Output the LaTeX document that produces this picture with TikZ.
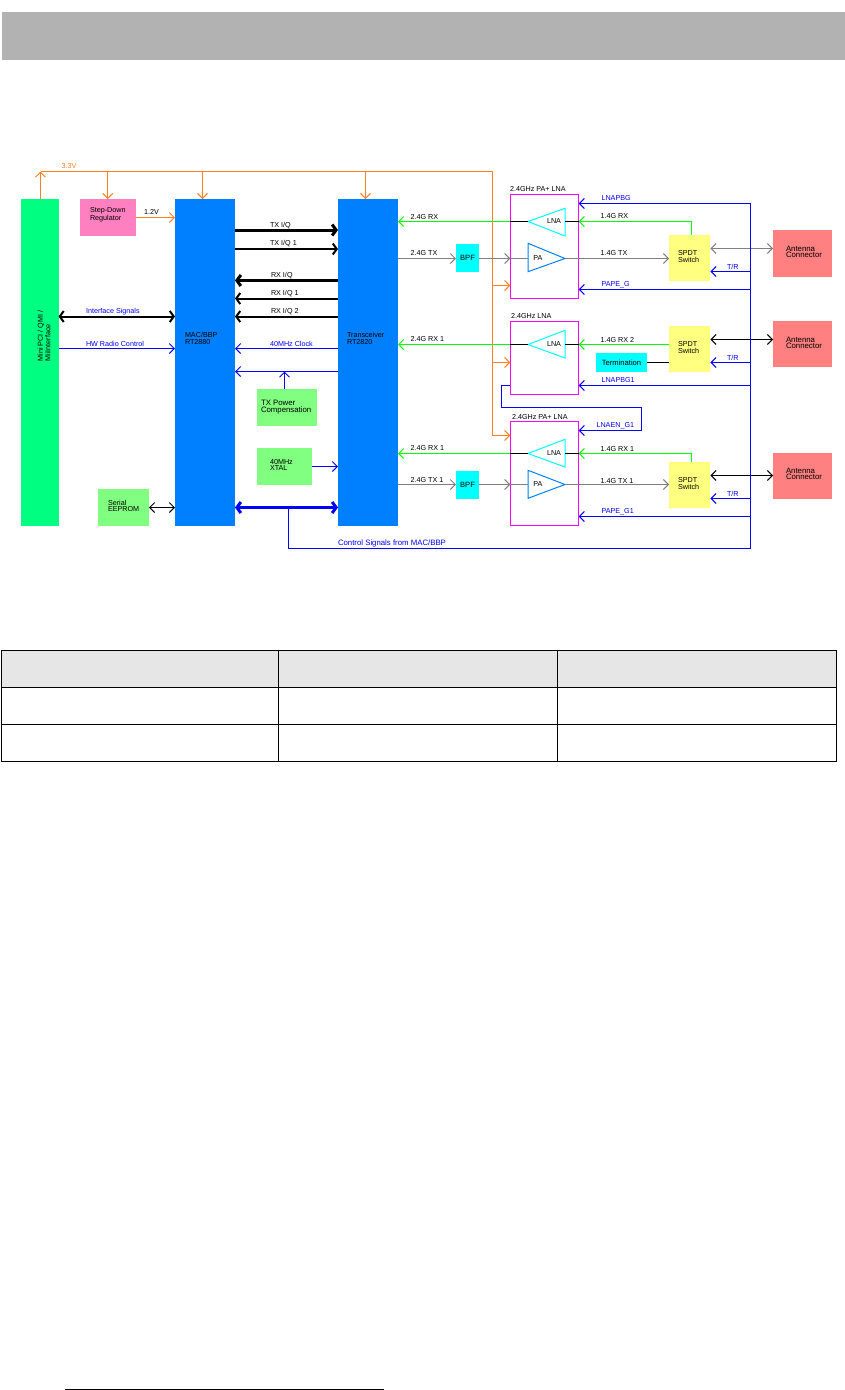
\documentclass[tikz,border=0pt]{standalone}
\usepackage{fontspec}
\setmainfont{Liberation Sans}
\usetikzlibrary{arrows.meta,calc}
\definecolor{barGray}{HTML}{B2B2B2}
\definecolor{headGray}{HTML}{E6E6E6}
\definecolor{hostGreen}{HTML}{00FF80}
\definecolor{chipBlue}{HTML}{0080FF}
\definecolor{regPink}{HTML}{FF80C0}
\definecolor{lightGreen}{HTML}{80FF80}
\definecolor{swYellow}{HTML}{FFFF80}
\definecolor{antRed}{HTML}{FF8080}
\definecolor{pwrOrange}{HTML}{FF8020}
\definecolor{ctlBlue}{HTML}{0000FF}
\definecolor{rfGray}{HTML}{808080}
\definecolor{rxGreen}{HTML}{00FF00}
\definecolor{bpfCyan}{HTML}{00FFFF}
\definecolor{femPink}{HTML}{FF00FF}
\begin{document}
\begin{tikzpicture}
[x=1pt,y=-1pt,
>={Straight Barb[length=5pt,width=10pt]},
box/.style={rectangle, draw=none, inner sep=0pt, outer sep=0pt},
hostbox/.style={box, fill=hostGreen},
chipbox/.style={box, fill=chipBlue},
regbox/.style={box, fill=regPink},
auxbox/.style={box, fill=lightGreen},
bpfbox/.style={box, fill=bpfCyan, font=\fontsize{7.6}{7}\selectfont},
swbox/.style={box, fill=swYellow},
antbox/.style={box, fill=antRed},
fembox/.style={box, draw=femPink, line width=1pt},
txt/.style={inner sep=0pt, outer sep=0pt, font=\fontsize{7.2}{6.5}\selectfont, align=left},
bigtxt/.style={txt, font=\fontsize{7.8}{6.5}\selectfont},
blutxt/.style={txt, text=ctlBlue},
orgtxt/.style={txt, text=pwrOrange},
link/.style={line width=1pt},
pwr/.style={link, pwrOrange, ->},
ctl/.style={link, ctlBlue, ->},
ctlw/.style={link, ctlBlue},
rx/.style={link, rxGreen, ->},
tx/.style={link, rfGray, ->},
txw/.style={link, rfGray},
blk/.style={link, black},
bus/.style={line width=3pt, black, ->, >={Straight Barb[length=4pt,width=11pt]}},
busthin/.style={bus, line width=2pt},
ant/.style={link, <->},
lnaamp/.style={draw=bpfCyan, line width=1pt},
paamp/.style={draw=chipBlue, line width=1pt}
]
\useasboundingbox (0,0) rectangle (845,1390);

% page furniture
\node (topbar) [box, fill=barGray, minimum width=843pt, minimum height=48pt] at (423.5,36) {};
\node (tablehead) [box, fill=headGray, minimum width=835pt, minimum height=37pt] at (418.5,668.5) {};
\coordinate (tnw) at (1,650);
\coordinate (tse) at (836,761);
\draw[line width=1pt] (tnw) rectangle (tse);
\foreach \rowy in {687,724} {
  \draw[line width=1pt] (tnw |- 0,\rowy) -- (tse |- 0,\rowy);
}
\foreach \colx in {278,557} {
  \draw[line width=1pt] (\colx,0 |- tnw) -- (\colx,0 |- tse);
}
\coordinate (footl) at (65,1389);
\coordinate (footr) at (384,1389);
\draw[line width=1pt] (footl) -- (footr);

% heights of the horizontal runs
\coordinate (rail) at (0,171.5);
\coordinate (r12) at (0,217.5);
\coordinate (txa) at (0,230);
\coordinate (txb) at (0,249);
\coordinate (rxa) at (0,280.5);
\coordinate (rxb) at (0,298.5);
\coordinate (rxc) at (0,316.5);
\coordinate (hw) at (0,348.5);
\coordinate (clk) at (0,371.5);
\coordinate (xt) at (0,466.5);
\coordinate (cbus) at (0,507.5);
\coordinate (cbot) at (0,548.5);
\coordinate (a1) at (0,221.5);
\coordinate (b1) at (0,258.5);
\coordinate (ant1) at (0,248.5);
\coordinate (tr1) at (0,271.5);
\coordinate (pg1) at (0,289.5);
\coordinate (lb1) at (0,203.5);
\coordinate (a2) at (0,344.5);
\coordinate (ant2) at (0,339.5);
\coordinate (tr2) at (0,362.5);
\coordinate (lb2) at (0,385.5);
\coordinate (a3) at (0,453.5);
\coordinate (b3) at (0,484.5);
\coordinate (ant3) at (0,475.5);
\coordinate (tr3) at (0,498.5);
\coordinate (pg3) at (0,516.5);
\coordinate (en) at (0,430.5);
\coordinate (loop) at (0,407.5);
\coordinate (ctlx) at (750.5,0);
\coordinate (pwrx) at (492.5,0);
\coordinate (busx) at (288.5,0);
\coordinate (loopl) at (501.5,0);
\coordinate (loopr) at (641.5,0);
\coordinate (swx) at (691.5,0);
\coordinate (ampl) at (528,0);
\coordinate (ampr) at (565,0);
\coordinate (hostx) at (40.5,0);
\coordinate (macx) at (202.5,0);
\coordinate (trxx) at (365.5,0);
\coordinate (pwrcx) at (284.5,0);

% blocks
\node (host) [hostbox, minimum width=37.5pt, minimum height=327pt] at (39.75,362.5) {};
\node (reg) [regbox, minimum width=55.5pt, minimum height=37pt] at (107.75,217.5) {};
\node (mac) [chipbox, minimum width=60pt, minimum height=327pt] at (205,362.5) {};
\node (trx) [chipbox, minimum width=60pt, minimum height=327pt] at (368,362.5) {};
\node (pwrc) [auxbox, minimum width=59.5pt, minimum height=37pt] at (286.75,407.5) {};
\node (xtal) [auxbox, minimum width=55pt, minimum height=37pt] at (284.5,466.5) {};
\node (eep) [auxbox, minimum width=51pt, minimum height=37pt] at (123.5,507.5) {};
\node (fema) [fembox, minimum width=68.4pt, minimum height=104pt] at (544.5,246.3) {};
\node (femb) [fembox, minimum width=68.4pt, minimum height=72.6pt] at (544.5,358) {};
\node (femc) [fembox, minimum width=68.4pt, minimum height=104pt] at (544.5,473.3) {};
\node (bpfa) [bpfbox, minimum width=23pt, minimum height=28pt] at (467.5,258) {BPF};
\node (bpfc) [bpfbox, minimum width=23pt, minimum height=28pt] at (467.5,484.8) {BPF};
\node (swa) [swbox, minimum width=41.3pt, minimum height=46pt] at (689.7,258) {};
\node (swb) [swbox, minimum width=41.3pt, minimum height=45.7pt] at (689.7,348.9) {};
\node (swc) [swbox, minimum width=41.3pt, minimum height=45.7pt] at (689.7,484.9) {};
\node (term) [bpfbox, minimum width=51pt, minimum height=18.7pt] at (621.5,362.3) {Termination};
\node (anta) [antbox, minimum width=59pt, minimum height=47pt] at (802.5,253.5) {};
\node (antb) [antbox, minimum width=59pt, minimum height=45.7pt] at (802.5,343.9) {};
\node (antc) [antbox, minimum width=59pt, minimum height=45.7pt] at (802.5,475.9) {};

% amplifiers
\coordinate (lnaatip) at (528,221.5);
\coordinate (lnabtip) at (528,344.5);
\coordinate (lnactip) at (528,453.5);
\coordinate (paatip) at (565,258.5);
\coordinate (pactip) at (565,484.5);
\draw[lnaamp] (lnaatip) -- (565,208.3) -- (565,236) -- cycle;
\draw[lnaamp] (lnabtip) -- (565,330.3) -- (565,358) -- cycle;
\draw[lnaamp] (lnactip) -- (565,439.3) -- (565,467) -- cycle;
\draw[paamp] (paatip) -- (528,243.3) -- (528,271.7) -- cycle;
\draw[paamp] (pactip) -- (528,470.3) -- (528,498.3) -- cycle;

% power
\draw[link,pwrOrange] (pwrx |- rail) -- (hostx |- rail);
\draw[pwr] (hostx |- host.north) -- (hostx |- rail);
\draw[pwr] (reg.north |- rail) -- (reg.north);
\draw[pwr] (macx |- rail) -- (macx |- mac.north);
\draw[pwr] (trxx |- rail) -- (trxx |- trx.north);
\draw[link,pwrOrange] (pwrx |- rail) -- (pwrx |- 0,435.5);
\draw[pwr] (pwrx |- 0,285.5) -- (fema.west |- 0,285.5);
\draw[pwr] (pwrx |- 0,362.5) -- (femb.west |- 0,362.5);
\draw[pwr] (pwrx |- 0,435.5) -- (femc.west |- 0,435.5);
\draw[pwr] (reg.east |- r12) -- (mac.west |- r12);

% buses between MAC and transceiver
\draw[bus] (mac.east |- txa) -- (trx.west |- txa);
\draw[busthin] (mac.east |- txb) -- (trx.west |- txb);
\draw[bus] (trx.west |- rxa) -- (mac.east |- rxa);
\draw[busthin] (trx.west |- rxb) -- (mac.east |- rxb);
\draw[busthin] (trx.west |- rxc) -- (mac.east |- rxc);
\draw[busthin, <->] (host.east |- rxc) -- (mac.west |- rxc);
\draw[ctl] (host.east |- hw) -- (mac.west |- hw);
\draw[ctl] (trx.west |- hw) -- (mac.east |- hw);
\draw[ctl] (trx.west |- clk) -- (mac.east |- clk);
\draw[ctl] (pwrcx |- pwrc.north) -- (pwrcx |- clk);
\draw[ctl] (xtal.east |- xt) -- (trx.west |- xt);
\draw[ant] (eep.east |- cbus) -- (mac.west |- cbus);
\draw[bus, <->, ctlBlue] (mac.east |- cbus) -- (trx.west |- cbus);

% first front end
\draw[rx] (fema.west |- a1) -- (trx.east |- a1);
\draw[blk] (fema.west |- a1) -- (lnaatip);
\draw[tx] (trx.east |- b1) -- (bpfa.west |- b1);
\draw[tx] (bpfa.east |- b1) -- (fema.west |- b1);
\draw[txw] (fema.west |- b1) -- (ampl |- b1);
\draw[rx] (swx |- swa.north) -- (swx |- a1) -- (fema.east |- a1);
\draw[blk] (ampr |- a1) -- (fema.east |- a1);
\draw[tx] (paatip) -- (swa.west |- b1);
\draw[tx, <->] (swa.east |- ant1) -- (anta.west |- ant1);
\draw[ctl] (ctlx |- tr1) -- (swa.east |- tr1);
\draw[ctl] (ctlx |- pg1) -- (fema.east |- pg1);
\draw[ctl] (ctlx |- lb1) -- (fema.east |- lb1);

% second front end
\draw[rx] (femb.west |- a2) -- (trx.east |- a2);
\draw[blk] (femb.west |- a2) -- (lnabtip);
\draw[rx] (swb.west |- a2) -- (femb.east |- a2);
\draw[blk] (ampr |- a2) -- (femb.east |- a2);
\draw[ant] (swb.east |- ant2) -- (antb.west |- ant2);
\draw[ctl] (ctlx |- tr2) -- (swb.east |- tr2);
\draw[blk] (term.east |- tr2) -- (swb.west |- tr2);
\draw[ctl] (ctlx |- lb2) -- (femb.east |- lb2);
\draw[ctl] (femb.west |- lb2) -- (loopl |- lb2) -- (loopl |- loop) -- (loopr |- loop) -- (loopr |- en) -- (femc.east |- en);

% third front end
\draw[rx] (femc.west |- a3) -- (trx.east |- a3);
\draw[blk] (femc.west |- a3) -- (lnactip);
\draw[rx] (swx |- swc.north) -- (swx |- a3) -- (femc.east |- a3);
\draw[blk] (ampr |- a3) -- (femc.east |- a3);
\draw[tx] (trx.east |- b3) -- (bpfc.west |- b3);
\draw[tx] (bpfc.east |- b3) -- (femc.west |- b3);
\draw[txw] (femc.west |- b3) -- (ampl |- b3);
\draw[tx] (pactip) -- (swc.west |- b3);
\draw[ant] (swc.east |- ant3) -- (antc.west |- ant3);
\draw[ctl] (ctlx |- tr3) -- (swc.east |- tr3);
\draw[ctl] (ctlx |- pg3) -- (femc.east |- pg3);

% control bus
\draw[ctlw] (busx |- cbus) -- (busx |- cbot) -- (ctlx |- cbot) -- (ctlx |- lb1);

% block texts
\node (hosttxt) [txt, rotate=90] at (44,336) {Mini PCI / QMI /\\MiiInterface};
\node (regtxt) [txt, anchor=west] at (90,215) {Step-Down\\Regulator};
\node (mactxt) [txt, anchor=west] at (185,338.5) {MAC/BBP\\RT2880};
\node (trxtxt) [txt, anchor=west] at (347,338.5) {Transceiver\\RT2820};
\node (pwrtxt) [bigtxt, anchor=west] at (261,407) {TX Power\\Compensation};
\node (xtaltxt) [txt, anchor=west] at (270,465) {40MHz\\XTAL};
\node (eeptxt) [txt, anchor=west] at (108,506) {Serial\\EEPROM};
\node (lnaatxt) [txt] at (554,221.5) {LNA};
\node (lnabtxt) [txt] at (554,344.5) {LNA};
\node (lnactxt) [txt] at (554,453.5) {LNA};
\node (paatxt) [txt] at (538,258) {PA};
\node (pactxt) [txt] at (538,484.5) {PA};
\node (fematxt) [txt, anchor=west] at (510,189.5) {2.4GHz PA+ LNA};
\node (fembtxt) [txt, anchor=west] at (511,316.5) {2.4GHz LNA};
\node (femctxt) [txt, anchor=west] at (512,417.5) {2.4GHz PA+ LNA};
\node (swatxt) [txt, anchor=west] at (678,256.5) {SPDT\\Switch};
\node (swbtxt) [txt, anchor=west] at (678,347.5) {SPDT\\Switch};
\node (swctxt) [txt, anchor=west] at (678,483.5) {SPDT\\Switch};
\node (antatxt) [bigtxt, anchor=west] at (786,252) {Antenna\\Connector};
\node (antbtxt) [bigtxt, anchor=west] at (786,343) {Antenna\\Connector};
\node (antctxt) [bigtxt, anchor=west] at (786,474) {Antenna\\Connector};

% connector texts
\node (l33) [orgtxt, anchor=west] at (61.5,166.5) {3.3V};
\node (l12) [txt, anchor=west] at (144,212) {1.2V};
\node (ltxa) [txt, anchor=west] at (270,226) {TX I/Q};
\node (ltxb) [txt, anchor=west] at (270,244) {TX I/Q 1};
\node (lrxa) [txt, anchor=west] at (271,275.5) {RX I/Q};
\node (lrxb) [txt, anchor=west] at (271,294) {RX I/Q 1};
\node (lrxc) [txt, anchor=west] at (271,312) {RX I/Q 2};
\node (lif) [blutxt, anchor=west] at (86,312) {Interface Signals};
\node (lhw) [blutxt, anchor=west] at (86,344) {HW Radio Control};
\node (lclk) [blutxt, anchor=west] at (270,344) {40MHz Clock};
\node (lrx1) [txt, anchor=west] at (410.5,217.5) {2.4G RX};
\node (ltx1) [txt, anchor=west] at (410.5,253.5) {2.4G TX};
\node (lrx2) [txt, anchor=west] at (410.5,339) {2.4G RX 1};
\node (lrx3) [txt, anchor=west] at (410.5,448.5) {2.4G RX 1};
\node (ltx3) [txt, anchor=west] at (410.5,480) {2.4G TX 1};
\node (lctl) [blutxt, bigtxt, text=ctlBlue, anchor=west] at (338,543) {Control Signals from MAC/BBP};
\node (rrx1) [txt, anchor=west] at (600.5,216.5) {1.4G RX};
\node (rtx1) [txt, anchor=west] at (600.5,253.5) {1.4G TX};
\node (rrx2) [txt, anchor=west] at (600.5,340) {1.4G RX 2};
\node (rrx3) [txt, anchor=west] at (600.5,449) {1.4G RX 1};
\node (rtx3) [txt, anchor=west] at (600.5,481) {1.4G TX 1};
\node (llb1) [blutxt, anchor=west] at (601.5,198.5) {LNAPBG};
\node (lpg1) [blutxt, anchor=west] at (601.5,285) {PAPE\_G};
\node (llb2) [blutxt, anchor=west] at (601.5,380.5) {LNAPBG1};
\node (len) [blutxt, anchor=west] at (596.5,425.5) {LNAEN\_G1};
\node (lpg3) [blutxt, anchor=west] at (601.5,512) {PAPE\_G1};
\node (ltr1) [blutxt, anchor=west] at (727,266.5) {T/R};
\node (ltr2) [blutxt, anchor=west] at (727,357.5) {T/R};
\node (ltr3) [blutxt, anchor=west] at (727,493.5) {T/R};
\end{tikzpicture}
\end{document}
